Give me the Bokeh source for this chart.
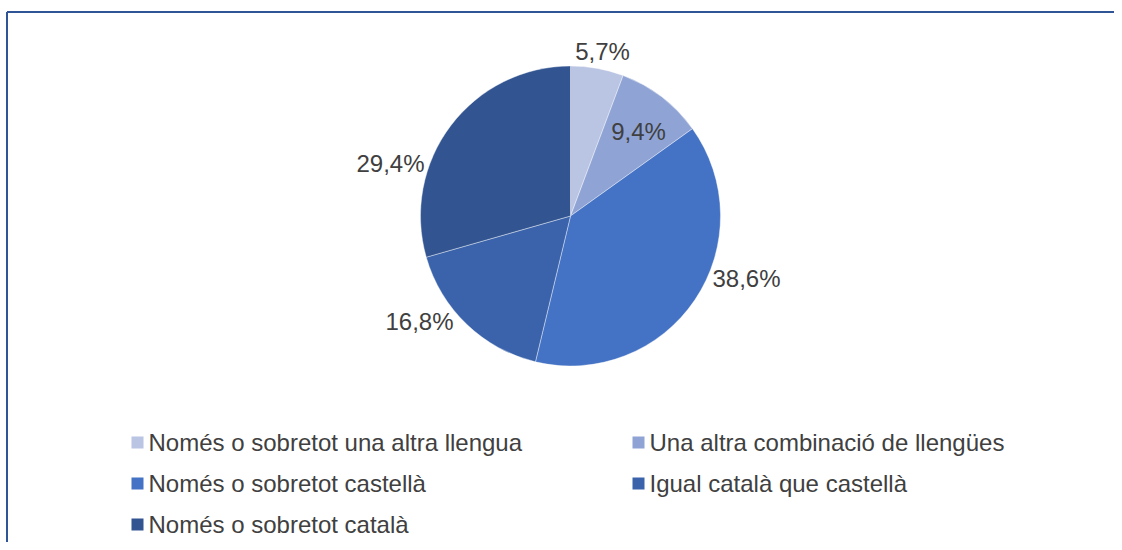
from math import pi
from bokeh.plotting import figure
from bokeh.models import Range1d, ColumnDataSource
from bokeh.core.properties import value
from bokeh.embed import file_html
from bokeh.resources import INLINE

# ---- data ----
categories = [
    "Només o sobretot una altra llengua",
    "Una altra combinació de llengües",
    "Només o sobretot castellà",
    "Igual català que castellà",
    "Només o sobretot català",
]
percentages = [5.7, 9.4, 38.6, 16.8, 29.4]

# ---- styles / layout ----
colors = ["#BAC4E3", "#8FA4D5", "#4472C4", "#3A63AB", "#325592"]
FONT = value("Liberation Sans")
TEXT_COLOR = "#404040"
W, H = 1114, 542
CX, CY, R = 570, H - 215.5, 150      # pie centre and radius in pixel units
# label offsets from the pie centre (pixels)
label_offsets = [(32, 165), (68, 85), (176, -62), (-151, -105), (-180, 53)]

total = sum(percentages)
starts, ends = [], []
a = pi / 2
for v in percentages:
    span = 2 * pi * v / total
    starts.append(a - span)
    ends.append(a)
    a -= span

src = ColumnDataSource(dict(
    cat=categories, val=percentages, start=starts, end=ends, color=colors,
    x=[CX] * len(categories), y=[CY] * len(categories),
))

p = figure(width=W, height=H, output_backend="svg", toolbar_location=None,
           x_range=Range1d(0, W), y_range=Range1d(0, H),
           min_border=0, min_border_left=0, min_border_right=0,
           min_border_top=0, min_border_bottom=0)
p.axis.visible = False
p.grid.visible = False
p.outline_line_color = None
p.background_fill_color = "white"
p.border_fill_color = "white"

p.wedge(x="x", y="y", radius=R, start_angle="start", end_angle="end",
        direction="anticlock", fill_color="color", line_color="white",
        line_width=0.5, line_alpha=0.8, source=src)

# data labels
lx = [CX + dx for dx, dy in label_offsets]
ly = [CY + dy for dx, dy in label_offsets]
ltxt = [("%.1f" % v).replace(".", ",") + "%" for v in percentages]
p.text(x=lx, y=ly, text=ltxt, text_font=FONT, text_font_size="24px",
       text_color=TEXT_COLOR, text_align="center", text_baseline="middle")

# legend (manual, two columns)
col_sq = [131, 632]
row_y = [H - 442, H - 483, H - 524]
sq_x, sq_y, tx, ty = [], [], [], []
for i, c in enumerate(categories):
    col = i % 2
    row = i // 2
    sq_x.append(col_sq[col] + 6)
    sq_y.append(row_y[row])
    tx.append(col_sq[col] + 17)
    ty.append(row_y[row])
p.rect(x=sq_x, y=sq_y, width=12, height=12, fill_color=colors, line_color=None)
p.text(x=tx, y=ty, text=categories, text_font=FONT, text_font_size="24px",
       text_color=TEXT_COLOR, text_align="left", text_baseline="middle")

# chart border (top and left visible)
p.line(x=[6.5, W], y=[H - 11.5, H - 11.5], line_color="#2F5597", line_width=2)
p.line(x=[6.5, 6.5], y=[0, H - 11.5], line_color="#2F5597", line_width=2)

open("out.html", "w").write(file_html(p, INLINE))
